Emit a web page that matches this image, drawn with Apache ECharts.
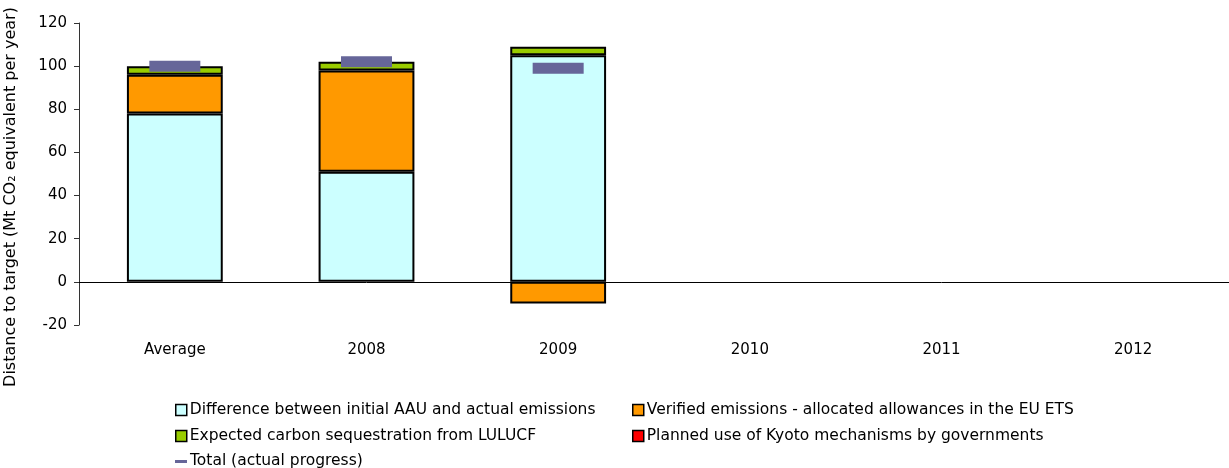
<!DOCTYPE html>
<html>
<head>
<meta charset="utf-8">
<script src="https://cdn.jsdelivr.net/npm/echarts@6/dist/echarts.min.js"></script>
<style>
  html, body { margin: 0; padding: 0; background: #fff; }
  #chart { width: 1229px; height: 468px; }
</style>
</head>
<body>
<div id="chart"></div>
<script>
// Distance to Kyoto target, Mt CO2 equivalent per year
const categories = ['Average', '2008', '2009', '2010', '2011', '2012'];
const aauDifference = [78, 51, 105, null, null, null];
const etsVerified = [18, 47, -10, null, null, null];
const luluCF = [4, 4, 4, null, null, null];
const kyotoMechanisms = [null, null, null, null, null, null];
const totalProgress = [100, 102, 99, null, null, null];
const yTicks = { min: -20, max: 120, interval: 20 };

const names = {
  aau: 'Difference between initial AAU and actual emissions',
  ets: 'Verified emissions - allocated allowances in the EU ETS',
  lulu: 'Expected carbon sequestration from LULUCF',
  kyoto: 'Planned use of Kyoto mechanisms by governments',
  total: 'Total (actual progress)'
};

const FONT = 'DejaVu Sans';
const TOTAL_COLOR = '#666699';
const barBorder = { borderColor: '#000', borderWidth: 2 };

function barSeries(name, data, color) {
  return {
    name: name,
    type: 'bar',
    stack: 'gap',
    data: data,
    barWidth: '50%',
    itemStyle: Object.assign({ color: color }, barBorder),
    emphasis: { disabled: true }
  };
}

// one legend entry per slot so the two columns line up
function legendEntry(name, left, top, isDash) {
  return {
    left: left, top: top, padding: 0,
    itemWidth: isDash ? 12 : 11,
    itemHeight: isDash ? 12 : 11,
    itemGap: 0,
    icon: isDash ? dashIcon : 'rect',
    selectedMode: false,
    itemStyle: isDash
      ? { color: TOTAL_COLOR, borderWidth: 0 }
      : { borderWidth: 1.5, borderColor: '#000' },
    textStyle: {
      color: '#000', fontSize: 15.5, fontFamily: FONT,
      lineHeight: 16, padding: [0, 0, 0, -2]
    },
    data: [{ name: name }]
  };
}

const dashIcon = 'path://M0,0h0.01v0.01h-0.01z M0,5h12v3h-12z M0,12h0.01v0.01h-0.01z';

const chart = echarts.init(document.getElementById('chart'), null, { renderer: 'canvas' });

chart.setOption({
  animation: false,
  textStyle: { fontFamily: FONT },
  grid: { left: 79, top: 23, width: 1158, bottom: 143, containLabel: false },
  xAxis: {
    type: 'category',
    data: categories,
    axisLine: { show: false, onZero: false },
    axisTick: { show: false },
    axisLabel: { color: '#000', fontSize: 15, fontFamily: FONT, margin: 18 }
  },
  yAxis: {
    type: 'value',
    min: yTicks.min,
    max: yTicks.max,
    interval: yTicks.interval,
    splitLine: { show: false },
    axisLine: { show: true, lineStyle: { color: '#333', width: 1 } },
    axisTick: { show: true, length: 5, lineStyle: { color: '#333' } },
    axisLabel: { color: '#000', fontSize: 15, fontFamily: FONT, margin: 12 }
  },
  legend: [
    legendEntry(names.aau, 175, 402, false),
    legendEntry(names.ets, 632, 402, false),
    legendEntry(names.lulu, 175, 428, false),
    legendEntry(names.kyoto, 632, 428, false),
    legendEntry(names.total, 175, 453, true)
  ],
  graphic: [
    {
      type: 'text',
      x: 11, y: 197,
      rotation: Math.PI / 2,
      style: {
        text: 'Distance to target (Mt CO\u2082 equivalent per year)',
        fontFamily: FONT, fontSize: 16, fill: '#000',
        align: 'center', verticalAlign: 'middle'
      }
    }
  ],
  series: [
    Object.assign(barSeries(names.aau, aauDifference, '#CCFFFF'), {
      markLine: {
        silent: true,
        symbol: 'none',
        label: { show: false },
        lineStyle: { color: '#000', width: 1, type: 'solid' },
        data: [{ yAxis: 0 }]
      }
    }),
    barSeries(names.ets, etsVerified, '#FF9900'),
    barSeries(names.lulu, luluCF, '#99CC00'),
    barSeries(names.kyoto, kyotoMechanisms, '#FF0000'),
    {
      name: names.total,
      type: 'scatter',
      data: totalProgress,
      symbol: 'rect',
      symbolSize: [51, 11],
      itemStyle: { color: TOTAL_COLOR, opacity: 1 },
      z: 5,
      emphasis: { disabled: true }
    }
  ]
});
</script>
</body>
</html>
